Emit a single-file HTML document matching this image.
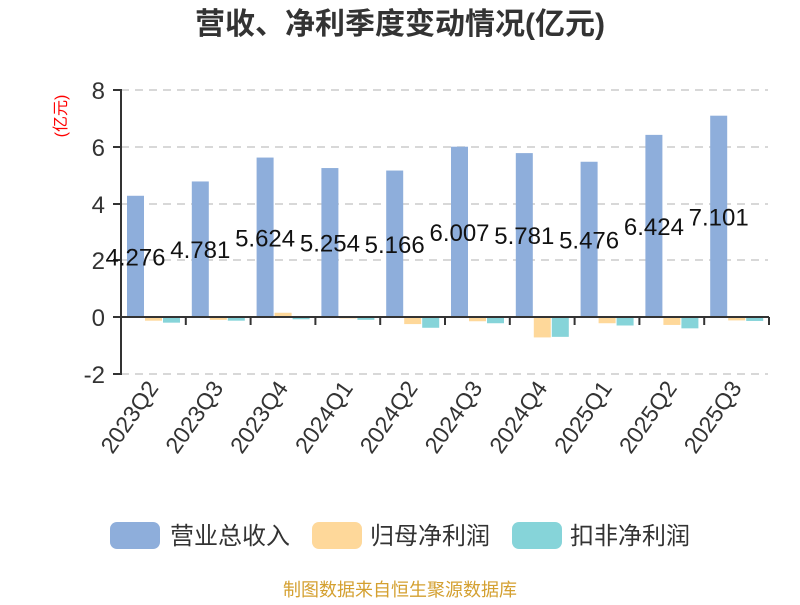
<!DOCTYPE html>
<html><head><meta charset="utf-8"><style>
body{margin:0;background:#fff}
svg text{font-family:"Liberation Sans","Noto Sans CJK SC",sans-serif}
</style></head><body>
<svg width="800" height="600" xmlns="http://www.w3.org/2000/svg">
<text x="400" y="34" text-anchor="middle" font-size="30" font-weight="bold" fill="#333">营收、净利季度变动情况(亿元)</text>
<text transform="translate(66,116) rotate(-90)" text-anchor="middle" font-size="16" fill="#f00">(亿元)</text>
<g stroke="#ccc" stroke-width="1.5" stroke-dasharray="8,6">
<line x1="121" y1="90" x2="768" y2="90"/><line x1="121" y1="147" x2="768" y2="147"/>
<line x1="121" y1="204" x2="768" y2="204"/><line x1="121" y1="260" x2="768" y2="260"/>
<line x1="121" y1="374" x2="768" y2="374"/>
</g>
<g font-size="24" fill="#333" text-anchor="end">
<text x="105" y="99">8</text><text x="105" y="156">6</text><text x="105" y="213">4</text>
<text x="105" y="269">2</text><text x="105" y="326">0</text><text x="105" y="383">-2</text>
</g>
<g id="bars"></g>
<g stroke="#333" stroke-width="2">
<line x1="121" y1="89" x2="121" y2="375"/>
<line x1="113" y1="90" x2="121" y2="90"/><line x1="113" y1="147" x2="121" y2="147"/>
<line x1="113" y1="204" x2="121" y2="204"/><line x1="113" y1="260" x2="121" y2="260"/>
<line x1="113" y1="317" x2="121" y2="317"/><line x1="113" y1="374" x2="121" y2="374"/>
<line x1="121" y1="317" x2="769" y2="317"/>
</g>
<g id="ticks"></g>
<g id="labels"></g>
<rect x="110" y="522" width="50" height="27" rx="7" fill="#8eaedb"/>
<text x="170" y="544" font-size="24" fill="#333">营业总收入</text>
<rect x="312" y="522" width="50" height="27" rx="7" fill="#fed89a"/>
<text x="370" y="544" font-size="24" fill="#333">归母净利润</text>
<rect x="512" y="522" width="50" height="27" rx="7" fill="#86d4d9"/>
<text x="570" y="544" font-size="24" fill="#333">扣非净利润</text>
<text x="400" y="596" text-anchor="middle" font-size="18" fill="#d4a030">制图数据来自恒生聚源数据库</text>
</svg>
<script>
const cats=["2023Q2","2023Q3","2023Q4","2024Q1","2024Q2","2024Q3","2024Q4","2025Q1","2025Q2","2025Q3"];
const rev=[4.276,4.781,5.624,5.254,5.166,6.007,5.781,5.476,6.424,7.101];
const np=[-0.13,-0.1,0.15,-0.05,-0.25,-0.15,-0.72,-0.22,-0.28,-0.12];
const kf=[-0.2,-0.13,-0.08,-0.1,-0.38,-0.22,-0.7,-0.3,-0.4,-0.14];
const ns="http://www.w3.org/2000/svg",u=28.35,z=317,w=64.8;
function el(p,t,a,txt){const e=document.createElementNS(ns,t);for(const k in a)e.setAttribute(k,a[k]);if(txt)e.textContent=txt;document.getElementById(p).appendChild(e);}
function bar(x,v,c){const y=v>=0?z-v*u:z,h=Math.abs(v)*u;el("bars","rect",{x:x,y:y,width:17,height:Math.max(h,1),fill:c});}
cats.forEach((c,i)=>{const s=121+i*w;
bar(s+6,rev[i],"#8eaedb");bar(s+24,np[i],"#fed89a");bar(s+42,kf[i],"#86d4d9");
el("ticks","line",{x1:s+w,y1:317,x2:s+w,y2:325,stroke:"#333","stroke-width":2});
el("labels","text",{x:s+14.5,y:z-rev[i]*u/2+9,"font-size":24,"text-anchor":"middle",fill:"#111"},rev[i].toFixed(3));
el("labels","text",{transform:`translate(${s+w/2+6},388) rotate(-55)`,"font-size":23,"text-anchor":"end",fill:"#333"},c);
});
</script>
</body></html>
